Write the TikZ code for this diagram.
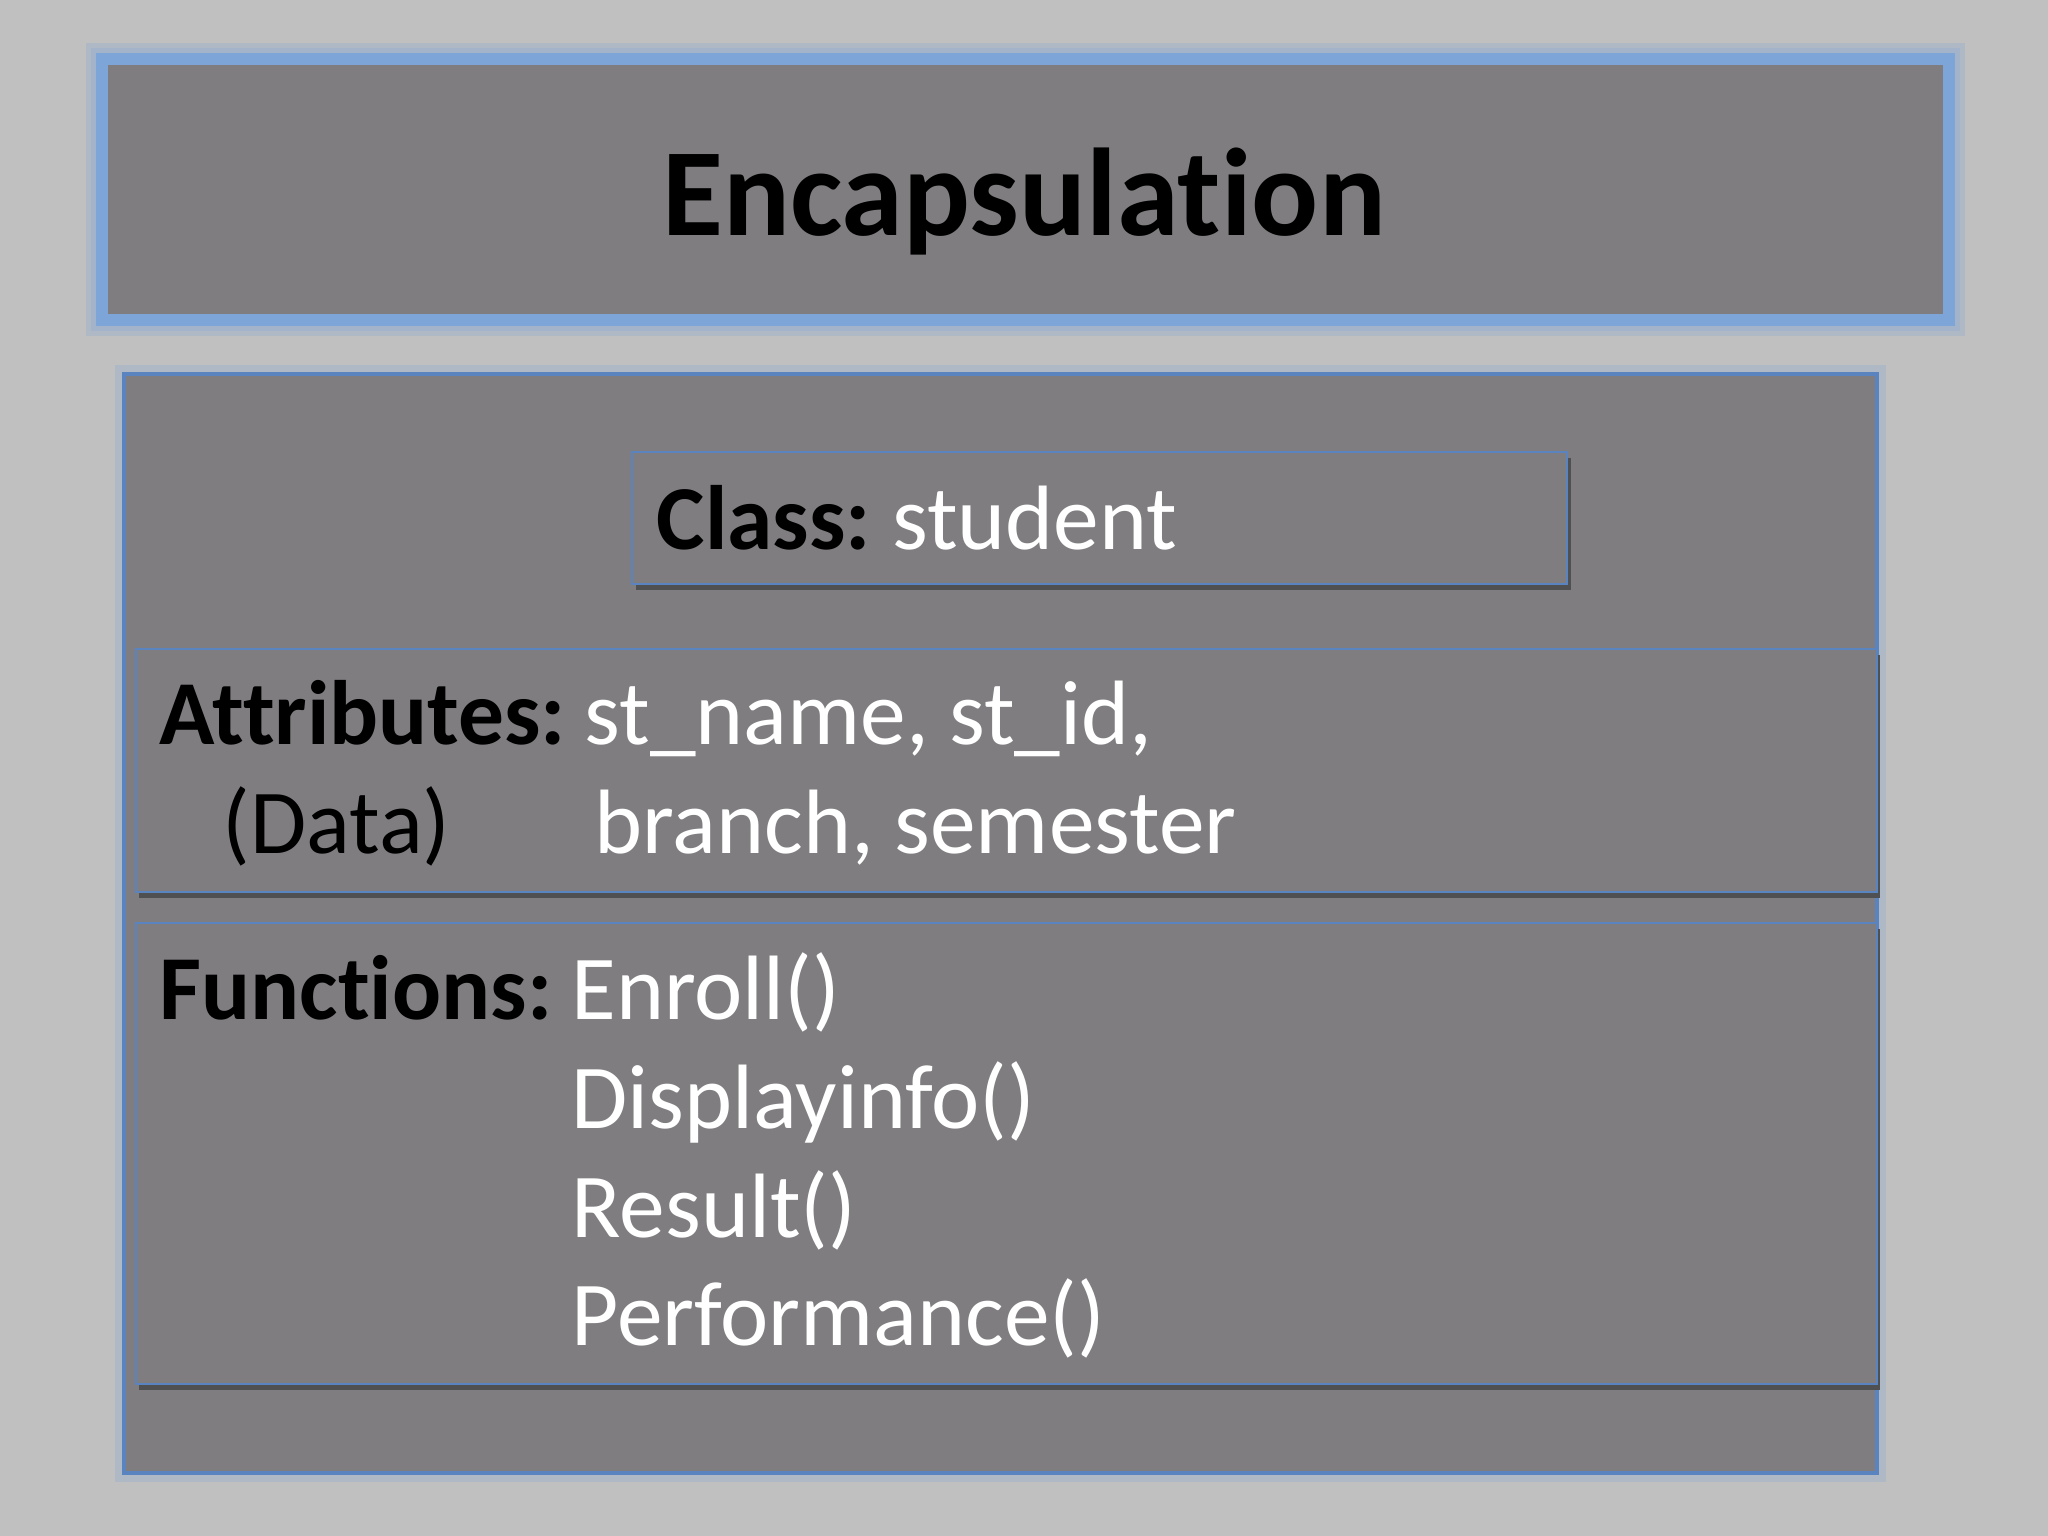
\documentclass[tikz,border=0pt]{standalone}
\usepackage{fontspec}
\setmainfont{Carlito}[Ligatures=NoCommon]
\usetikzlibrary{positioning}
\definecolor{bg}{HTML}{C0C0C0}
\definecolor{boxgray}{HTML}{7F7D80}
\definecolor{glow}{HTML}{7EA5D8}
\definecolor{edge}{HTML}{5A84C0}
\definecolor{dropgray}{HTML}{4E5052}
\begin{document}
\begin{tikzpicture}[x=0.01cm,y=-0.01cm,
  panel/.style={fill=boxgray,draw=edge,line width=0.7pt},
  halo/.style={draw=glow,opacity=0.25},
  txt/.style={anchor=base west,inner sep=0pt,font=\fontsize{26pt}{30pt}\selectfont},
  key/.style={txt,text=black,font=\fontsize{26pt}{30pt}\selectfont\bfseries},
  val/.style={txt,text=white}]
\fill[bg] (0,0) rectangle (2048,1536);
\useasboundingbox (0,0) rectangle (2048,1536);
\draw[halo,line width=9pt] (102,59) rectangle (1949,320);
\draw[halo,line width=6pt] (102,59) rectangle (1949,320);
\draw[fill=boxgray,draw=glow,line width=3.6pt] (102,59) rectangle (1949,320);
\node (title) at (1024,235)[anchor=base,inner sep=0pt,font=\fontsize{35.5pt}{40pt}\selectfont\bfseries] {Encapsulation};
\draw[halo,line width=5pt] (124,374) rectangle (1877,1473);
\draw[panel,line width=1.4pt] (124,374) rectangle (1877,1473);
\fill[dropgray] (636,458) rectangle (1571,590);
\draw[panel] (632,452) rectangle (1567,584);
\node (cls) at (656,549)[key] {Class:};
\node (clsname) [val,right=0.2cm of cls.base east,anchor=base west] {student};
\fill[dropgray] (139,655) rectangle (1880,898);
\draw[panel] (136,649) rectangle (1877,892);
\node (attr) at (159,744)[key] {Attributes:};
\node (a1) at (584,744)[val] {st\_name, st\_id,};
\node (data) at (222,853)[txt] {(Data)};
\node (a2) at (594,853)[val] {branch, semester};
\fill[dropgray] (139,929) rectangle (1880,1390);
\draw[panel] (136,923) rectangle (1877,1384);
\node (fn) at (159,1019)[key] {Functions:};
\node (f1) at (571,1019)[val] {Enroll()};
\node (f2) at (571,1128)[val] {Displayinfo()};
\node (f3) at (571,1237)[val] {Result()};
\node (f4) at (571,1345)[val] {Performance()};
\end{tikzpicture}
\end{document}
